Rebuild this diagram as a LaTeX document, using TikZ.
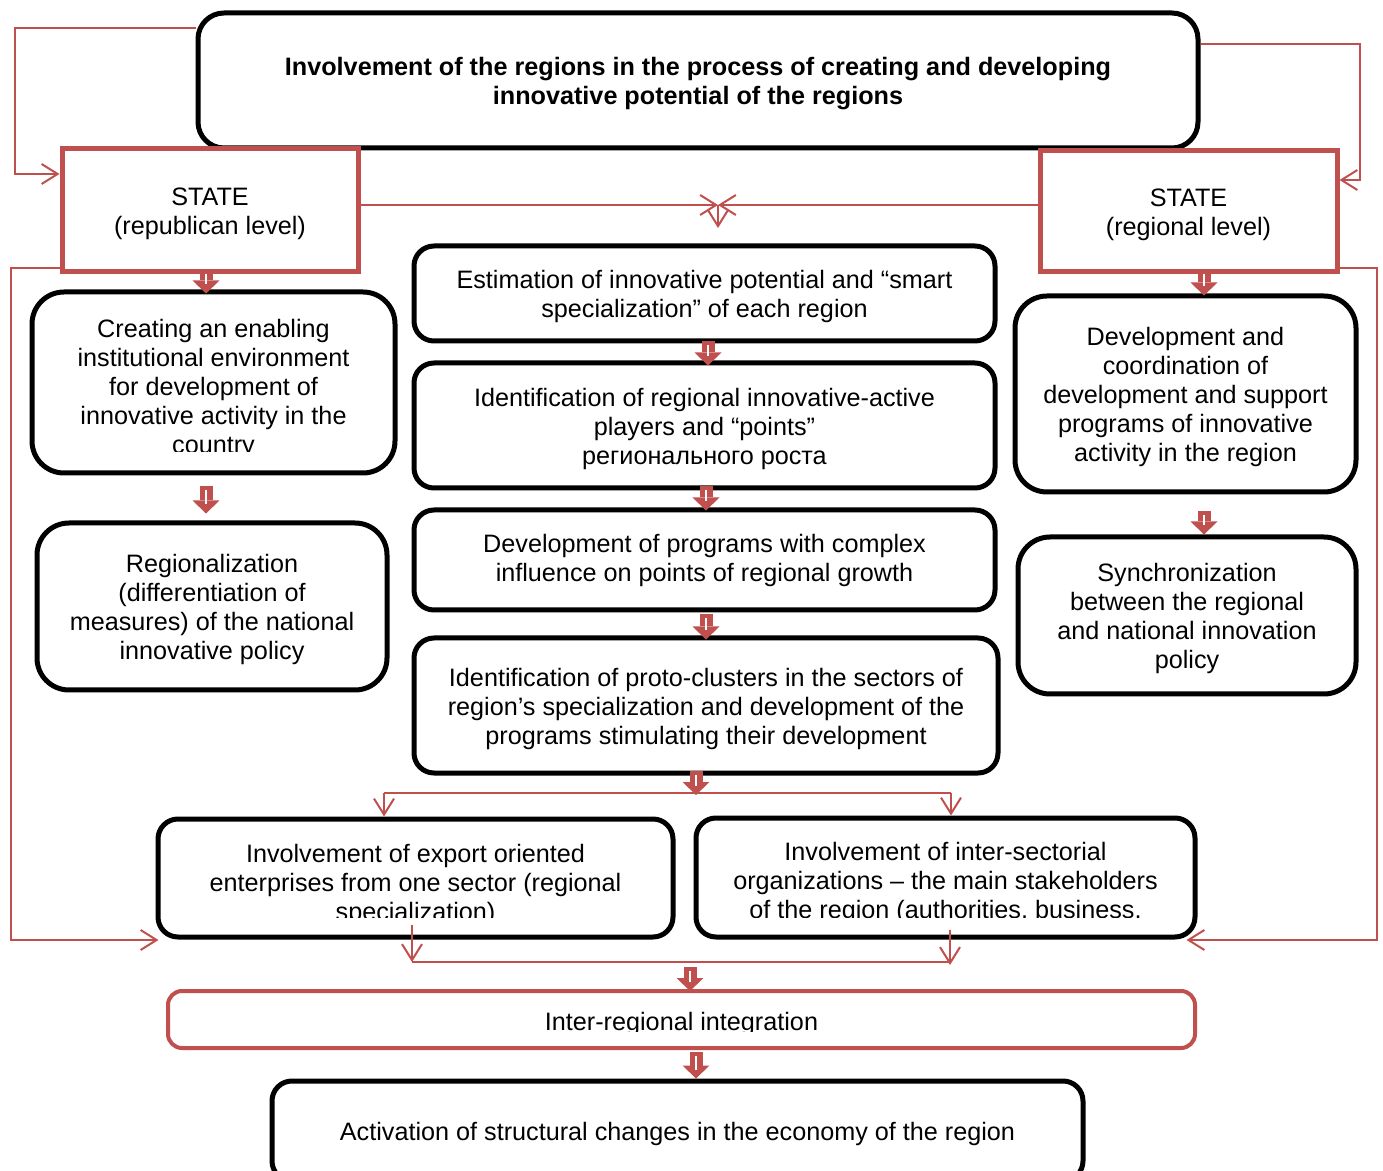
\documentclass[tikz,border=0pt]{standalone}
\usepackage{fontspec}
\setmainfont{Liberation Sans}
\usetikzlibrary{arrows.meta,calc,positioning}
\definecolor{arrred}{RGB}{192,80,77}
\newcommand{\boxfont}{\fontsize{12.6pt}{14.5pt}\selectfont}
\newcommand{\topstrut}{\rule{0pt}{12.2pt}}
\newcommand{\barr}[2]{%
  \draw[barrow] (#1) -- (#2);
  \draw[bcore] (#1) -- (#2);}
\tikzset{
  box/.style={draw, line width=2.5pt, rounded corners=10pt, align=center, inner sep=0pt, font=\boxfont},
  statebox/.style={draw=arrred, line width=2.5pt, align=center, inner sep=0pt, font=\boxfont},
  txt/.style={align=center, inner sep=0pt, font=\boxfont},
  link/.style={draw=arrred, line width=1pt, -{Straight Barb[length=8pt,width=10pt]}},
  redline/.style={draw=arrred, line width=1pt},
  barrow/.style={draw=arrred, line width=6.5pt, -{Triangle[length=6.5pt,width=13.5pt,line width=0pt]}},
  bcore/.style={draw=white, line width=1pt, shorten <=2pt, shorten >=4.5pt}
}

\begin{document}
\begin{tikzpicture}[x=0.5pt,y=-0.5pt]
\useasboundingbox (0,0) rectangle (1383,1171);

\node[box, rounded corners=13pt, font=\boxfont\bfseries, minimum width=500pt, minimum height=67.5pt] (top) at (698,80.5) {\topstrut Involvement of the regions in the process of creating and developing\\innovative potential of the regions};
\node[statebox, minimum width=148pt, minimum height=61.5pt] (rep) at (210,210.5) {\topstrut STATE\\(republican level)};
\node[statebox, minimum width=148.5pt, minimum height=60.5pt] (reg) at (1188.5,211.5) {\topstrut STATE\\(regional level)};

\node[box, rounded corners=16pt, minimum width=181.5pt, minimum height=90.5pt] (create) at (213.5,382.5) {};
\begin{scope}
\clip (40,300) rectangle (390,452);
\node[txt] (create-t) at (213.5,389) {Creating an enabling\\institutional environment\\for development of\\innovative activity in the\\country};
\end{scope}
\node[box, rounded corners=16pt, minimum width=175pt, minimum height=83.5pt] (regn) at (212,606.5) {\topstrut Regionalization\\(differentiation of\\measures) of the national\\innovative policy};

\node[box, minimum width=290.5pt, minimum height=47.5pt] (estim) at (704.5,293.5) {\topstrut Estimation of innovative potential and “smart\\specialization” of each region};
\node[box, minimum width=290.5pt, minimum height=62.5pt] (ident) at (704.5,425.5) {\topstrut Identification of regional innovative-active\\players and “points”\\регионального роста};
\node[box, minimum width=290.5pt, minimum height=50pt] (devel) at (704.5,560) {Development of programs with complex\\influence on points of regional growth};
\node[box, minimum width=292pt, minimum height=67.5pt] (proto) at (706,705.5) {\topstrut Identification of proto-clusters in the sectors of\\region’s specialization and development of the\\programs stimulating their development};

\node[box, rounded corners=16pt, minimum width=170.5pt, minimum height=98pt] (coord) at (1185.5,394) {\topstrut Development and\\coordination of\\development and support\\programs of innovative\\activity in the region};
\node[box, rounded corners=16pt, minimum width=169pt, minimum height=78.5pt] (sync) at (1187,615.5) {\topstrut Synchronization\\between the regional\\and national innovation\\policy};

\node[box, minimum width=257.5pt, minimum height=59pt] (export) at (415.5,878) {};
\node[box, minimum width=249.5pt, minimum height=59.5pt] (inter) at (945.5,877.5) {};
\begin{scope}
\clip (165,825) rectangle (668,917);
\node[txt] (export-t) at (415.5,885) {Involvement of export oriented\\enterprises from one sector (regional\\specialization)};
\end{scope}
\begin{scope}
\clip (700,825) rectangle (1190,917);
\node[txt] (inter-t) at (945.5,883) {Involvement of inter-sectorial\\organizations – the main stakeholders\\of the region (authorities, business,};
\end{scope}

\node[box, draw=arrred, line width=2pt, rounded corners=7pt, minimum width=513.5pt, minimum height=28.5pt] (integ) at (681.5,1019.5) {};
\begin{scope}
\clip (175,995) rectangle (1190,1031);
\node[txt] (integ-t) at (681.5,1024) {Inter-regional integration};
\end{scope}
\node[box, minimum width=405.5pt, minimum height=50pt] (activ) at (677.5,1131) {\topstrut Activation of structural changes in the economy of the region};

\coordinate (lA) at (15,28);
\coordinate (lB) at (15,174);
\coordinate (rA) at (1360,44);
\coordinate (rB) at (1360,180);
\coordinate (lC) at (11,268);
\coordinate (lD) at (11,940);
\coordinate (rC) at (1377,268);
\coordinate (rD) at (1377,940);
\coordinate (meet) at (718,205);
\coordinate (meetd) at (718,228);
\coordinate (sp) at (696,795);
\coordinate (spL) at (384,793);
\coordinate (spR) at (951,793);
\coordinate (mL) at (412,962);
\coordinate (mR) at (950,962);
\coordinate (mid) at (690,967);
\coordinate (cl) at (206,0);
\coordinate (cr) at (1204,0);
\coordinate (cm) at (706,0);
\coordinate (cn) at (708,0);
\coordinate (ci) at (696,0);

\draw[link] (top.west |- lA) -- (lA) -- (lB) -- (rep.west |- lB);
\draw[link] (top.east |- rA) -- (rA) -- (rB) -- (reg.east |- rB);
\draw[link] (rep.east |- meet) -- (meet);
\draw[link] (reg.west |- meet) -- (meet);
\draw[link] (meet) -- (meetd);
\draw[link, shorten >=-1.5pt] (rep.west |- lC) -- (lC) -- (lD) -- (export.west |- lD);
\draw[link, shorten >=-5.5pt] (reg.east |- rC) -- (rC) -- (rD) -- (inter.east |- rD);
\draw[redline] (spL) -- (spR);
\draw[link] (spL) -- (spL |- export.north);
\draw[link] (spR) -- (spR |- inter.north);
\draw[link] ($(export.south -| mL)+(0,-15)$) -- (mL);
\draw[link] ($(inter.south -| mR)+(0,-10)$) -- ($(mR)+(0,3)$);
\draw[redline] (mL) -- (mR);

\barr{$(rep.south -| cl)+(0,-4)$}{$(create.north -| cl)+(0,4)$}
\barr{$(reg.south -| cr)+(0,-4)$}{$(coord.north -| cr)+(0,2)$}
\barr{$(create.south -| cl)+(0,11)$}{$(regn.north -| cl)+(0,-7)$}
\barr{$(coord.south -| cr)+(0,17)$}{sync.north -| cr}
\barr{$(estim.south -| cn)+(0,-2)$}{$(ident.north -| cn)+(0,5)$}
\barr{$(ident.south -| cm)+(0,-4)$}{$(devel.north -| cm)+(0,3)$}
\barr{$(devel.south -| cm)+(0,2)$}{$(proto.north -| cm)+(0,4)$}
\barr{$(proto.south -| sp)+(0,-5)$}{sp}
\barr{mid}{$(integ.north -| mid)+(0,2)$}
\barr{$(integ.south -| ci)+(0,2)$}{activ.north -| ci}
\end{tikzpicture}
\end{document}
